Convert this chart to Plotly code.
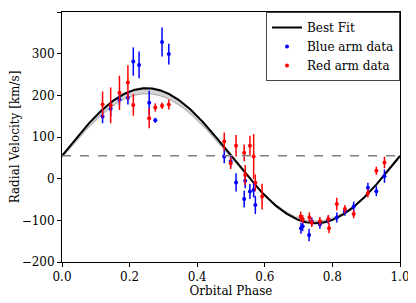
import numpy as np
import plotly.graph_objects as go

# Best-fit orbit parameters
gamma = 55.0
K_fit = 162.0

# Blue arm data
blue_phase = [0.120, 0.144, 0.170, 0.195, 0.211, 0.228, 0.258, 0.276, 0.296, 0.316,
              0.480, 0.499, 0.515, 0.539, 0.542, 0.556, 0.567, 0.572,
              0.707, 0.712, 0.731, 0.739, 0.763, 0.788, 0.813, 0.837, 0.863, 0.905, 0.930, 0.954]
blue_rv = [149, 168, 190, 194, 281, 273, 182, 140, 328, 299,
           53, 41, -9, -49, -5, -31, -27, -63,
           -119, -114, -135, -103, -110, -99, -93, -79, -67, -22, -30, 6]
blue_err = [16, 18, 14, 16, 34, 32, 29, 6, 35, 25,
            16, 14, 22, 20, 18, 18, 18, 22,
            13, 12, 15, 10, 10, 10, 12, 10, 12, 12, 12, 16]

# Red arm data
red_phase = [0.120, 0.144, 0.170, 0.195, 0.211, 0.258, 0.276, 0.296, 0.316,
             0.480, 0.499, 0.515, 0.539, 0.556, 0.567, 0.542, 0.572, 0.592,
             0.706, 0.712, 0.732, 0.739, 0.763, 0.788, 0.790, 0.813, 0.837, 0.863, 0.905, 0.930, 0.954]
red_rv = [178, 176, 206, 231, 177, 145, 171, 175, 178,
          89, 37, 79, 62, 79, 53, 9, -10, -43,
          -91, -97, -93, -106, -102, -97, -119, -61, -73, -85, -35, 19, 39]
red_err = [31, 43, 41, 41, 26, 24, 10, 8, 12,
           22, 14, 26, 20, 24, 54, 24, 20, 31,
           12, 10, 12, 10, 10, 10, 12, 15, 10, 10, 10, 10, 14]

x_ticks = [0.0, 0.2, 0.4, 0.6, 0.8, 1.0]
y_ticks = [-200, -100, 0, 100, 200, 300, 400]

phase_grid = np.linspace(0, 1, 400)
fit = gamma + K_fit * np.sin(2 * np.pi * phase_grid)
band_hi = gamma + 1 + (K_fit + 3) * np.sin(2 * np.pi * phase_grid)
band_lo = gamma - 4 + (K_fit - 9) * np.sin(2 * np.pi * phase_grid)

FONT = "DejaVu Serif"
FS = 12

fig = go.Figure()
fig.add_trace(go.Scatter(x=phase_grid, y=band_hi, mode="lines", line=dict(color="rgba(0,0,0,0)"),
                         showlegend=False, hoverinfo="skip"))
fig.add_trace(go.Scatter(x=phase_grid, y=band_lo, mode="lines", line=dict(color="rgba(140,140,140,0.6)", width=1.2),
                         fill="tonexty", fillcolor="rgba(150,150,150,0.4)", showlegend=False, hoverinfo="skip"))
fig.add_hline(y=gamma, line=dict(color="gray", dash="dash", width=1.3))
fig.add_trace(go.Scatter(x=phase_grid, y=fit, mode="lines", line=dict(color="black", width=2),
                         name="Best Fit"))
fig.add_trace(go.Scatter(x=blue_phase, y=blue_rv, mode="markers", name="Blue arm data",
                         marker=dict(color="blue", size=4),
                         error_y=dict(type="data", array=blue_err, color="blue", thickness=1.5, width=0)))
fig.add_trace(go.Scatter(x=red_phase, y=red_rv, mode="markers", name="Red arm data",
                         marker=dict(color="red", size=4),
                         error_y=dict(type="data", array=red_err, color="red", thickness=1.5, width=0)))

axis_common = dict(showline=True, linecolor="black", linewidth=1, mirror=True, ticks="outside",
                   ticklen=4, tickcolor="black", showgrid=False, zeroline=False, automargin=False,
                   tickfont=dict(family=FONT, size=FS, color="black"))
fig.update_xaxes(range=[0, 1], tickvals=x_ticks, ticktext=[f"{v:.1f}" for v in x_ticks],
                 title=dict(text="Orbital Phase", font=dict(family=FONT, size=FS, color="black"), standoff=1),
                 **axis_common)
fig.update_yaxes(range=[-200, 400], tickvals=y_ticks, ticktext=[str(v).replace("-", "\u2212") for v in y_ticks],
                 title=dict(text="Radial Velocity [km/s]", font=dict(family=FONT, size=FS, color="black"), standoff=8),
                 **axis_common)
fig.update_layout(
    width=416, height=303,
    margin=dict(l=54, r=24, t=4, b=49),
    paper_bgcolor="white", plot_bgcolor="white",
    font=dict(family=FONT, size=FS, color="black"),
    legend=dict(x=1.0, y=1.0, xanchor="right", yanchor="top", bgcolor="white",
                bordercolor="#444", borderwidth=1, font=dict(family=FONT, size=FS),
                tracegroupgap=0, traceorder="normal"),
)
fig.write_html("out.html")
